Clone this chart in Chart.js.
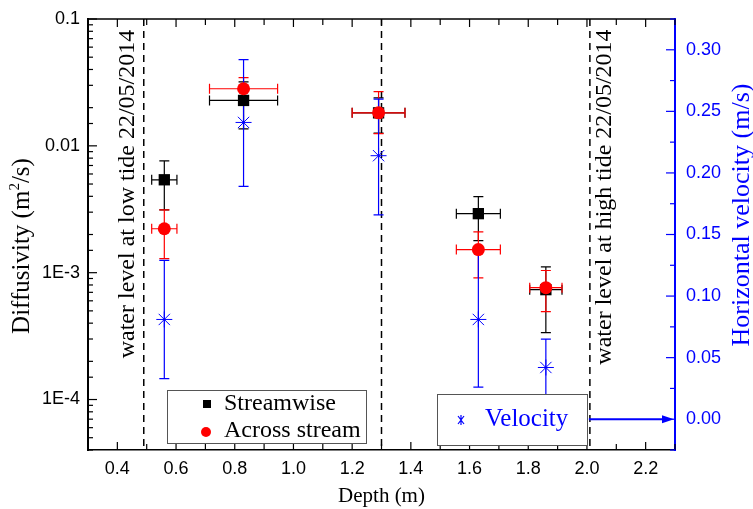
<!DOCTYPE html>
<html>
<head>
<meta charset="utf-8">
<script src="https://cdn.jsdelivr.net/npm/chart.js@4.4.0/dist/chart.umd.min.js"></script>
<style>
  html, body { margin: 0; padding: 0; background: #fff; }
</style>
</head>
<body>
<canvas id="chart" width="753" height="509"></canvas>
<script>
// depth of each measurement (m)
const depth = [0.56, 0.83, 1.29, 1.63, 1.86];
const depthErr = [0.043, 0.116, 0.09, 0.075, 0.055];

// diffusivity, streamwise (m2/s)
const streamwise = [0.0054, 0.0228, 0.0182, 0.00292, 0.000735];
const streamLo = [0.00313, 0.0136, 0.0126, 0.00179, 0.000337];
const streamHi = [0.0076, 0.0319, 0.0239, 0.00398, 0.00111];

// diffusivity, across stream (m2/s)
const across = [0.00222, 0.0282, 0.0182, 0.00152, 0.000762];
const acrossLo = [0.00129, 0.021, 0.0125, 0.00091, 0.000493];
const acrossHi = [0.00313, 0.0345, 0.0268, 0.0021, 0.00104];

// horizontal velocity (m/s)
const velocity = [0.081, 0.241, 0.214, 0.081, 0.042];
const velLo = [0.033, 0.189, 0.166, 0.026, 0.019];
const velHi = [0.129, 0.292, 0.260, 0.137, 0.065];

// water level lines (m)
const tideLines = [0.49, 1.3, 2.01];

const SANS = "'Liberation Sans', Arial, sans-serif";
const SERIF = "'Liberation Serif', 'Times New Roman', serif";
const BLUE = "#0000ff";
const RED = "#ff0000";

const logLabels = { "-1": "0.1", "-2": "0.01", "-3": "1E-3", "-4": "1E-4" };
function isDecade(v) {
	const e = Math.log10(v);
	return Math.abs(e - Math.round(e)) < 1e-6;
}

function pts(ys) {
	return depth.map((d, i) => ({ x: d, y: ys[i] }));
}

const extras = {
	id: "extras",
	beforeDatasetsDraw(chart) {
		const { ctx, chartArea, scales } = chart;
		const x = scales.x;

		// dashed water level lines
		ctx.save();
		ctx.strokeStyle = "#000";
		ctx.lineWidth = 1.5;
		ctx.setLineDash([7, 5]);
		tideLines.forEach((d) => {
			const px = x.getPixelForValue(d);
			ctx.beginPath();
			ctx.moveTo(px, chartArea.top);
			ctx.lineTo(px, chartArea.bottom);
			ctx.stroke();
		});
		ctx.restore();

		// error bars
		const groups = [
			{ y: scales.y, lo: streamLo, hi: streamHi, v: streamwise, xe: depthErr, color: "#000" },
			{ y: scales.y, lo: acrossLo, hi: acrossHi, v: across, xe: depthErr, color: RED },
			{ y: scales.y2, lo: velLo, hi: velHi, v: velocity, xe: null, color: BLUE },
		];
		ctx.save();
		ctx.lineWidth = 1.2;
		groups.forEach((g) => {
			ctx.strokeStyle = g.color;
			depth.forEach((d, i) => {
				const px = x.getPixelForValue(d);
				const py = g.y.getPixelForValue(g.v[i]);
				const ylo = g.y.getPixelForValue(g.lo[i]);
				const yhi = g.y.getPixelForValue(g.hi[i]);
				ctx.beginPath();
				ctx.moveTo(px, ylo);
				ctx.lineTo(px, yhi);
				ctx.moveTo(px - 5, ylo);
				ctx.lineTo(px + 5, ylo);
				ctx.moveTo(px - 5, yhi);
				ctx.lineTo(px + 5, yhi);
				if (g.xe) {
					const xl = x.getPixelForValue(d - g.xe[i]);
					const xr = x.getPixelForValue(d + g.xe[i]);
					ctx.moveTo(xl, py);
					ctx.lineTo(xr, py);
					ctx.moveTo(xl, py - 5);
					ctx.lineTo(xl, py + 5);
					ctx.moveTo(xr, py - 5);
					ctx.lineTo(xr, py + 5);
				}
				ctx.stroke();
			});
		});
		ctx.restore();
	},
	afterDraw(chart) {
		const { ctx, chartArea, scales } = chart;
		const { left, right, top, bottom } = chartArea;
		ctx.save();

		// top frame
		ctx.strokeStyle = "#000";
		ctx.lineWidth = 1.5;
		ctx.beginPath();
		ctx.moveTo(left, top);
		ctx.lineTo(right, top);
		ctx.stroke();

		// inward ticks, x axis (bottom and top)
		ctx.lineWidth = 1.2;
		scales.x.ticks.forEach((t) => {
			const px = scales.x.getPixelForValue(t.value);
			const len = Math.round(t.value * 10) % 2 === 0 ? 8 : 6;
			ctx.beginPath();
			ctx.moveTo(px, bottom);
			ctx.lineTo(px, bottom - len);
			ctx.moveTo(px, top);
			ctx.lineTo(px, top + len);
			ctx.stroke();
		});
		// left log axis
		scales.y.ticks.forEach((t) => {
			const py = scales.y.getPixelForValue(t.value);
			const len = isDecade(t.value) ? 9 : 5;
			ctx.beginPath();
			ctx.moveTo(left, py);
			ctx.lineTo(left + len, py);
			ctx.stroke();
		});
		// right velocity axis
		ctx.strokeStyle = BLUE;
		scales.y2.ticks.forEach((t) => {
			const py = scales.y2.getPixelForValue(t.value);
			const major = Math.abs(Math.round(t.value * 1000) % 50) === 0;
			const len = major ? 9 : 5;
			ctx.beginPath();
			ctx.moveTo(right, py);
			ctx.lineTo(right - len, py);
			ctx.stroke();
		});

		// arrow pointing to velocity axis
		const ay = scales.y2.getPixelForValue(0);
		const ax = scales.x.getPixelForValue(tideLines[2]) - 1;
		ctx.lineWidth = 2;
		ctx.beginPath();
		ctx.moveTo(ax, ay);
		ctx.lineTo(right - 10, ay);
		ctx.stroke();
		ctx.fillStyle = BLUE;
		ctx.beginPath();
		ctx.moveTo(right - 1, ay);
		ctx.lineTo(right - 13, ay - 4);
		ctx.lineTo(right - 13, ay + 4);
		ctx.closePath();
		ctx.fill();

		// legend 1
		ctx.lineWidth = 1;
		ctx.strokeStyle = "#555";
		ctx.fillStyle = "#fff";
		ctx.fillRect(167, 390, 199, 53);
		ctx.strokeRect(167.5, 390.5, 199, 53);
		ctx.fillStyle = "#000";
		ctx.fillRect(203, 400, 8, 8);
		ctx.fillStyle = RED;
		ctx.beginPath();
		ctx.arc(206, 432, 5, 0, Math.PI * 2);
		ctx.fill();
		ctx.font = "24px " + SERIF;
		ctx.textBaseline = "middle";
		ctx.textAlign = "left";
		ctx.fillStyle = "#000";
		ctx.fillText("Streamwise", 224, 404);
		ctx.fillText("Across stream", 224, 431);

		// legend 2
		ctx.fillStyle = "#fff";
		ctx.fillRect(437, 394, 150, 51);
		ctx.strokeRect(437.5, 394.5, 150, 51);
		ctx.strokeStyle = BLUE;
		ctx.lineWidth = 1.2;
		ctx.beginPath();
		ctx.moveTo(458, 416);
		ctx.lineTo(464, 424);
		ctx.moveTo(464, 416);
		ctx.lineTo(458, 424);
		ctx.moveTo(461, 415);
		ctx.lineTo(461, 425);
		ctx.stroke();
		ctx.fillStyle = BLUE;
		ctx.font = "25px " + SERIF;
		ctx.fillText("Velocity", 485, 419);

		// rotated annotations and y titles
		function vtext(str, cx, cy, font, color) {
			ctx.save();
			ctx.translate(cx, cy);
			ctx.rotate(-Math.PI / 2);
			ctx.font = font;
			ctx.fillStyle = color;
			ctx.textAlign = "center";
			ctx.textBaseline = "middle";
			ctx.fillText(str, 0, 0);
			ctx.restore();
		}
		const lowX = scales.x.getPixelForValue(tideLines[0]) - 16;
		const highX = scales.x.getPixelForValue(tideLines[2]) + 15;
		vtext("water level at low tide 22/05/2014", lowX, 194, "24px " + SERIF, "#000");
		vtext("water level at high tide 22/05/2014", highX, 197, "24px " + SERIF, "#000");
		vtext("Horizontal velocity (m/s)", 742, 215, "26px " + SERIF, BLUE);

		// left title with superscript
		ctx.save();
		ctx.translate(21, 246);
		ctx.rotate(-Math.PI / 2);
		ctx.fillStyle = "#000";
		ctx.textBaseline = "alphabetic";
		ctx.textAlign = "left";
		const big = "25px " + SERIF;
		const small = "15px " + SERIF;
		ctx.font = big;
		const p1 = "Diffusivity (m";
		const p3 = "/s)";
		const w1 = ctx.measureText(p1).width;
		const w3 = ctx.measureText(p3).width;
		ctx.font = small;
		const w2 = ctx.measureText("2").width;
		const sx = -(w1 + w2 + w3) / 2;
		const base = 8;
		ctx.font = big;
		ctx.fillText(p1, sx, base);
		ctx.font = small;
		ctx.fillText("2", sx + w1, base - 10);
		ctx.font = big;
		ctx.fillText(p3, sx + w1 + w2, base);
		ctx.restore();

		ctx.restore();
	},
};

new Chart(document.getElementById("chart"), {
	type: "scatter",
	data: {
		datasets: [
			{
				label: "Velocity",
				data: pts(velocity),
				yAxisID: "y2",
				pointStyle: "star",
				radius: 8,
				borderColor: BLUE,
				backgroundColor: BLUE,
				borderWidth: 1,
			},
			{
				label: "Across stream",
				data: pts(across),
				yAxisID: "y",
				pointStyle: "circle",
				radius: 6.5,
				borderColor: RED,
				backgroundColor: RED,
				borderWidth: 0,
			},
			{
				label: "Streamwise",
				data: pts(streamwise),
				yAxisID: "y",
				pointStyle: "rect",
				radius: 8,
				borderColor: "#000",
				backgroundColor: "#000",
				borderWidth: 0,
			},
		],
	},
	options: {
		responsive: false,
		animation: false,
		layout: { padding: { top: 19, left: 0, right: 0, bottom: 0 } },
		plugins: {
			legend: { display: false },
			tooltip: { enabled: false },
		},
		scales: {
			x: {
				type: "linear",
				position: "bottom",
				min: 0.3,
				max: 2.3,
				afterFit: (s) => { s.height = 59; },
				grid: { display: false },
				border: { display: true, color: "#000", width: 1.5 },
				ticks: {
					stepSize: 0.1,
					autoSkip: false,
					maxRotation: 0,
					padding: 0,
					color: "#000",
					font: { family: SANS, size: 18 },
					callback: (v) => (Math.round(v * 10) % 2 === 0 ? Number(v).toFixed(1) : ""),
				},
				title: {
					display: true,
					text: "Depth (m)",
					color: "#000",
					font: { family: SERIF, size: 21 },
					padding: { top: 0, bottom: 0 },
				},
			},
			y: {
				type: "logarithmic",
				position: "left",
				min: 4e-5,
				max: 0.1,
				afterFit: (s) => { s.width = 88; },
				grid: { display: false },
				border: { display: true, color: "#000", width: 2 },
				ticks: {
					autoSkip: false,
					padding: 0,
					color: "#000",
					font: { family: SANS, size: 18 },
					callback: (v) => (isDecade(v) ? logLabels[String(Math.round(Math.log10(v)))] || "" : ""),
				},
			},
			y2: {
				type: "linear",
				position: "right",
				min: -0.025,
				max: 0.325,
				afterFit: (s) => { s.width = 78; },
				grid: { display: false },
				border: { display: true, color: BLUE, width: 2 },
				ticks: {
					stepSize: 0.025,
					autoSkip: false,
					padding: 3,
					color: BLUE,
					font: { family: SANS, size: 18 },
					callback: (v) => {
						const m = Math.round(v * 1000);
						return m >= 0 && m % 50 === 0 ? (m / 1000).toFixed(2) : "";
					},
				},
			},
		},
	},
	plugins: [extras],
});
</script>
</body>
</html>
